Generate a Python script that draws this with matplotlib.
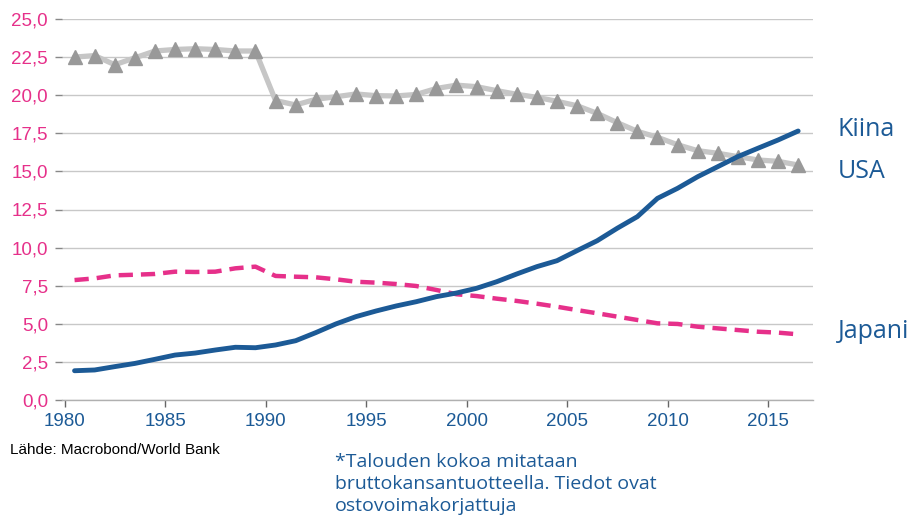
import matplotlib
matplotlib.use("Agg")
import matplotlib.pyplot as plt
import numpy as np

years = list(range(1980, 2017))
usa = [22.5, 22.6, 22.0, 22.45, 22.9, 23.0, 23.05, 23.0, 22.9, 22.9,
       19.65, 19.36, 19.73, 19.9, 20.08, 19.97, 19.95, 20.05, 20.44, 20.66,
       20.56, 20.3, 20.06, 19.86, 19.6, 19.31, 18.81, 18.2, 17.63, 17.24,
       16.75, 16.36, 16.19, 15.97, 15.75, 15.66, 15.42]
china = [1.92, 1.97, 2.19, 2.4, 2.67, 2.95, 3.08, 3.28, 3.46, 3.43,
         3.61, 3.89, 4.42, 4.99, 5.47, 5.84, 6.17, 6.45, 6.78, 7.02,
         7.33, 7.76, 8.27, 8.75, 9.14, 9.8, 10.45, 11.27, 12.03, 13.23,
         13.89, 14.65, 15.31, 15.97, 16.52, 17.06, 17.65]
japan = [7.87, 7.98, 8.18, 8.22, 8.27, 8.42, 8.4, 8.42, 8.64, 8.75,
         8.14, 8.09, 8.05, 7.92, 7.76, 7.7, 7.61, 7.48, 7.22, 6.94,
         6.82, 6.65, 6.5, 6.32, 6.12, 5.9, 5.69, 5.47, 5.25, 5.03,
         4.99, 4.81, 4.7, 4.59, 4.48, 4.42, 4.31]
yticks = [0, 2.5, 5, 7.5, 10, 12.5, 15, 17.5, 20, 22.5, 25]
ytick_labels = ["0,0", "2,5", "5,0", "7,5", "10,0", "12,5", "15,0", "17,5", "20,0", "22,5", "25,0"]
xticks = [1980, 1985, 1990, 1995, 2000, 2005, 2010, 2015]
series_labels = ["Kiina", "USA", "Japani"]
source_text = "Lähde: Macrobond/World Bank"
note_lines = ["*Talouden kokoa mitataan", "bruttokansantuotteella. Tiedot ovat", "ostovoimakorjattuja"]

BLUE = "#1c5a96"
PINK = "#e6308a"
GRID = "#c8c8c8"

W, H = 910, 516
fig = plt.figure(figsize=(W/100, H/100), dpi=100)
left_px, right_px = 62, 812.7
ax = fig.add_axes([left_px/W, 1-400/H, (right_px-left_px)/W, 381/H])

px_per_year = 20.1
x0 = 1980 + (left_px - 64.5)/px_per_year
x1 = 1980 + (right_px - 64.5)/px_per_year

x = np.array(years) + 0.5
ax.plot(x, usa, color="#c6c6c6", lw=3.8, zorder=3, solid_capstyle="round")
ax.plot(x, usa, linestyle="none", marker="^", markersize=10, color="#999999", zorder=4)
ax.plot(x, japan, color=PINK, lw=3.2, linestyle=(0, (3.2, 1.8)), zorder=5)
ax.plot(x, china, color=BLUE, lw=3.5, zorder=6, solid_capstyle="round")

ax.set_xlim(x0, x1)
ax.set_ylim(0, 25)
ax.set_yticks(yticks)
ax.set_yticklabels(ytick_labels, color=PINK, fontsize=13.5, family="Liberation Sans")
ax.set_xticks(xticks)
ax.set_xticklabels([str(t) for t in xticks], color=BLUE, fontsize=13.5, family="Liberation Sans")
ax.tick_params(axis="y", length=5, color="#888888", width=1, pad=5)
ax.tick_params(axis="x", length=5, color="#666666", width=1, pad=4, direction="out")
ax.grid(axis="y", color=GRID, lw=1)
ax.set_axisbelow(True)
for s in ["left", "right", "top"]:
    ax.spines[s].set_visible(False)
ax.spines["bottom"].set_color("#b0b0b0")
ax.spines["bottom"].set_linewidth(1)

for lab, ypx in zip(series_labels, [130, 172, 332]):
    fig.text(838/W, 1-ypx/H, lab, color=BLUE, fontsize=18, family="Open Sans", va="center", ha="left")

fig.text(10/W, 1-450/H, source_text, color="black", fontsize=11,
         family="Liberation Sans", va="center", ha="left")
for line, base in zip(note_lines, [467, 489, 511]):
    fig.text(335/W, 1-base/H, line, color=BLUE, fontsize=14, family="Open Sans",
             va="baseline", ha="left")

fig.savefig("out.png", dpi=100)
